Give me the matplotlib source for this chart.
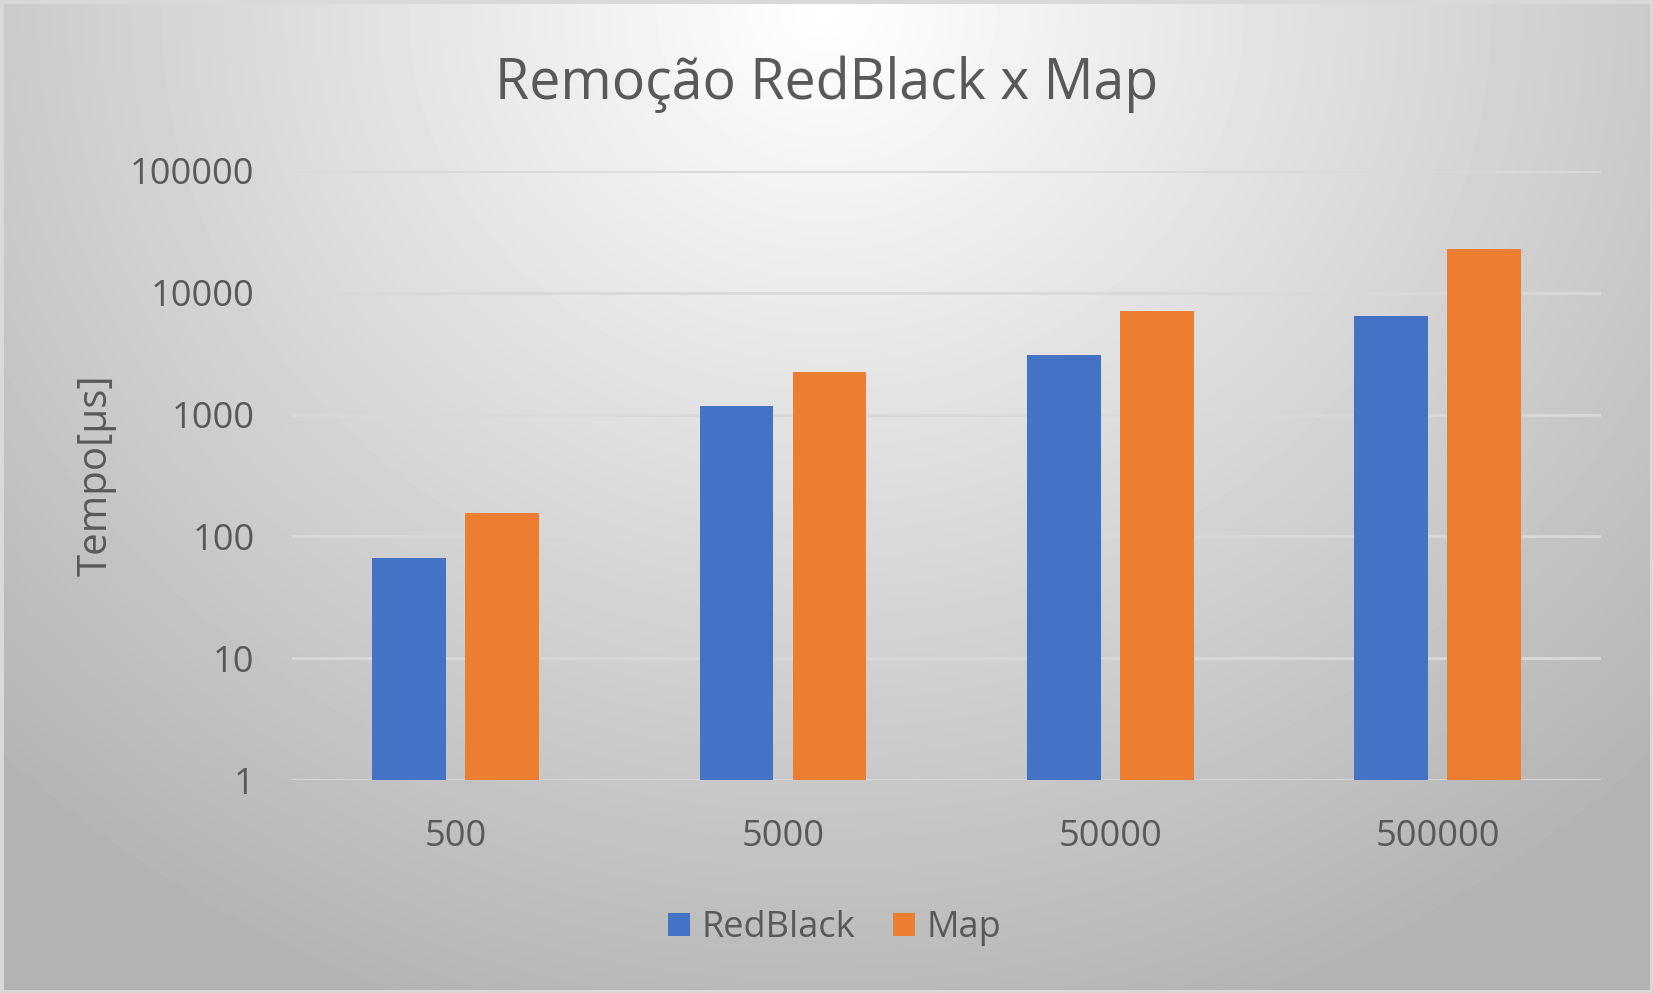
import numpy as np
import matplotlib.pyplot as plt
from matplotlib.patches import Rectangle

plt.rcParams['font.family'] = ['Open Sans', 'DejaVu Sans']

# data
categories = ['500', '5000', '50000', '500000']
redblack = [67, 1178, 3070, 6410]
map_vals = [155, 2233, 7090, 22760]
series_names = ['RedBlack', 'Map']
yticks = [1, 10, 100, 1000, 10000, 100000]

blue = '#4472c4'
orange = '#ed7d31'
text_color = '#595959'

fig = plt.figure(figsize=(16.53, 9.93), dpi=100)

# radial gradient background, brightest near the top centre
bg = fig.add_axes([0, 0, 1, 1], zorder=0)
h, w = 993, 1653
yy, xx = np.mgrid[0:h, 0:w]
r = np.sqrt(((xx - 826) / 1.1) ** 2 + (yy - 10) ** 2) / 900.0
shade = np.clip(1.0 - 0.25 * r, 0.70, 1.0)
bg.imshow(shade, cmap='gray', vmin=0, vmax=1, aspect='auto',
          extent=[0, 1, 0, 1], origin='upper')
bg.add_patch(Rectangle((0, 0), 1, 1, transform=bg.transAxes, fill=False,
                       edgecolor='#d9d9d9', lw=5))
bg.set_xlim(0, 1)
bg.set_ylim(0, 1)
bg.axis('off')

ax = fig.add_axes([0.1767, 0.2145, 0.792, 0.6133], zorder=1)
ax.patch.set_alpha(0)

x = np.arange(len(categories))
width = 0.225
ax.bar(x - 0.142, redblack, width, color=blue, label=series_names[0], zorder=3)
ax.bar(x + 0.142, map_vals, width, color=orange, label=series_names[1], zorder=3)

ax.set_yscale('log')
ax.set_ylim(1, 100000)
ax.set_xlim(-0.5, len(categories) - 0.5)
ax.set_yticks(yticks)
ax.set_yticklabels([str(v) for v in yticks])
ax.minorticks_off()
ax.set_xticks(x)
ax.set_xticklabels(categories)

ax.grid(axis='y', color='#d9d9d9', lw=2, zorder=1)
for s in ax.spines.values():
    s.set_visible(False)
ax.tick_params(axis='both', length=0, labelsize=26, colors=text_color)
ax.tick_params(axis='y', pad=27)
ax.tick_params(axis='x', pad=28)

ax.set_ylabel('Tempo[µs]', fontsize=29, color=text_color, labelpad=10)
fig.text(0.5, 0.915, 'Remoção RedBlack x Map', ha='center', va='center',
         fontsize=40, color=text_color)

leg = fig.legend(loc='center', bbox_to_anchor=(0.505, 0.065), ncol=2,
                 frameon=False, fontsize=26, labelcolor=text_color,
                 handlelength=0.62, handleheight=0.62, handletextpad=0.32,
                 columnspacing=1.03)

fig.savefig('out.png', dpi=100)
